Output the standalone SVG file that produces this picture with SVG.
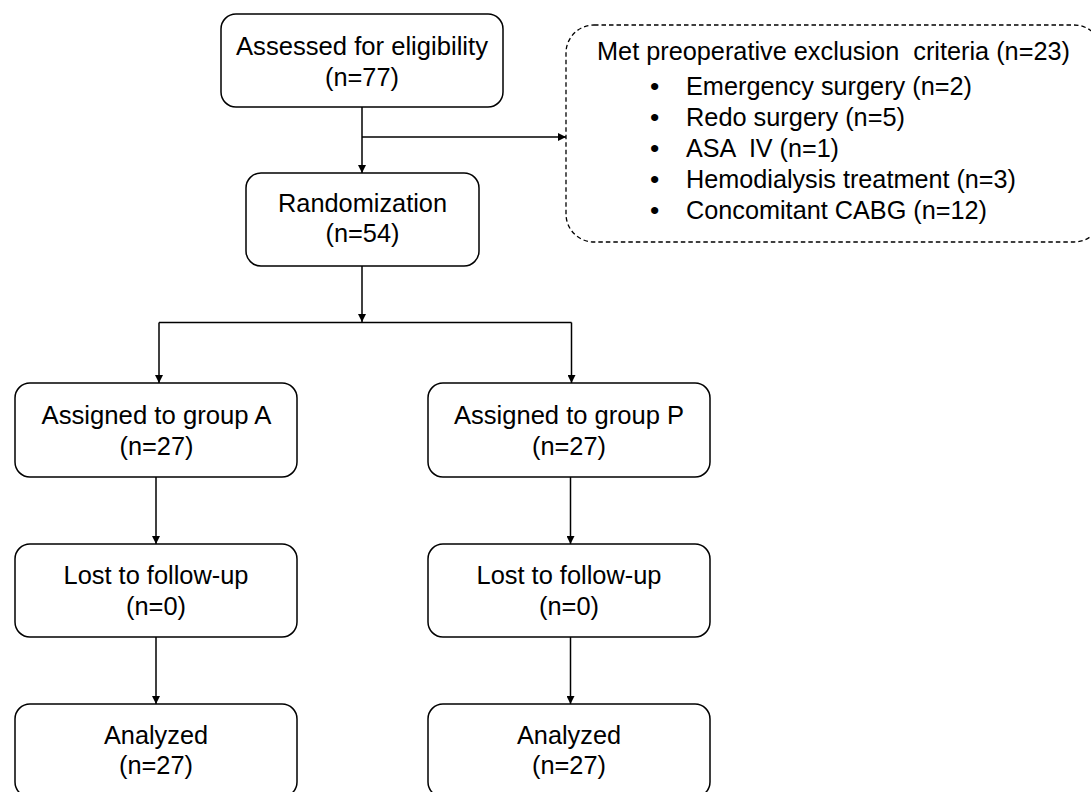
<svg xmlns="http://www.w3.org/2000/svg" width="1091" height="792" viewBox="0 0 1091 792">
<defs>
<style>
.box{fill:#fff;stroke:#000;stroke-width:1.5}
.dash{fill:#fff;stroke:#000;stroke-width:1.3;stroke-dasharray:4.5 3}
.t{font-family:"Liberation Sans",Arial,sans-serif;font-size:26.5px;fill:#000}
.c{text-anchor:middle}
.ln{fill:none;stroke:#000;stroke-width:1.5}
</style>
<marker id="ah" viewBox="0 0 10 10" refX="10" refY="5" markerWidth="9" markerHeight="8" markerUnits="userSpaceOnUse" orient="auto">
<path d="M0,0 L10,5 L0,10 Z" fill="#000"/>
</marker>
</defs>
<rect width="1091" height="792" fill="#fff"/>
<g id="connectors">
<path class="ln" d="M362,107 V173" marker-end="url(#ah)"/>
<path class="ln" d="M362,137 H566" marker-end="url(#ah)"/>
<path class="ln" d="M362,266 V322" marker-end="url(#ah)"/>
<path class="ln" d="M159,322.5 H571.5"/>
<path class="ln" d="M159,322.5 V383" marker-end="url(#ah)"/>
<path class="ln" d="M571.5,322.5 V383" marker-end="url(#ah)"/>
<path class="ln" d="M156,477 V544" marker-end="url(#ah)"/>
<path class="ln" d="M570.5,477 V544" marker-end="url(#ah)"/>
<path class="ln" d="M156,637 V704" marker-end="url(#ah)"/>
<path class="ln" d="M570.5,637 V704" marker-end="url(#ah)"/>
</g>
<g id="assessed">
<rect class="box" x="221" y="14" width="282" height="93" rx="15"/>
<text class="t c" x="362" y="55" textLength="252" lengthAdjust="spacingAndGlyphs">Assessed for eligibility</text>
<text class="t c" x="362" y="85.5" textLength="74" lengthAdjust="spacingAndGlyphs">(n=77)</text>
</g>
<g id="exclusion">
<rect class="dash" x="566" y="25" width="536" height="217" rx="28"/>
<text class="t" x="597" y="60" xml:space="preserve" textLength="473" lengthAdjust="spacingAndGlyphs">Met preoperative exclusion  criteria (n=23)</text>
<g class="t">
<text x="650" y="95">•</text><text x="686" y="95" textLength="286" lengthAdjust="spacingAndGlyphs">Emergency surgery (n=2)</text>
<text x="650" y="126">•</text><text x="686" y="126" textLength="219" lengthAdjust="spacingAndGlyphs">Redo surgery (n=5)</text>
<text x="650" y="157">•</text><text x="686" y="157" xml:space="preserve" textLength="153" lengthAdjust="spacingAndGlyphs">ASA  IV (n=1)</text>
<text x="650" y="188">•</text><text x="686" y="188" textLength="330" lengthAdjust="spacingAndGlyphs">Hemodialysis treatment (n=3)</text>
<text x="650" y="219">•</text><text x="686" y="219" textLength="301" lengthAdjust="spacingAndGlyphs">Concomitant CABG (n=12)</text>
</g>
</g>
<g id="randomization">
<rect class="box" x="246" y="173" width="233" height="93" rx="15"/>
<text class="t c" x="362.5" y="212" textLength="169" lengthAdjust="spacingAndGlyphs">Randomization</text>
<text class="t c" x="362.5" y="242" textLength="74" lengthAdjust="spacingAndGlyphs">(n=54)</text>
</g>
<g id="groupA">
<rect class="box" x="15" y="383" width="282" height="94" rx="15"/>
<text class="t c" x="156.5" y="424" textLength="230" lengthAdjust="spacingAndGlyphs">Assigned to group A</text>
<text class="t c" x="156.5" y="454.5" textLength="74" lengthAdjust="spacingAndGlyphs">(n=27)</text>
</g>
<g id="groupP">
<rect class="box" x="428" y="383" width="282" height="94" rx="15"/>
<text class="t c" x="569" y="424" textLength="230" lengthAdjust="spacingAndGlyphs">Assigned to group P</text>
<text class="t c" x="569" y="454.5" textLength="74" lengthAdjust="spacingAndGlyphs">(n=27)</text>
</g>
<g id="lostA">
<rect class="box" x="15" y="544" width="282" height="93" rx="15"/>
<text class="t c" x="156" y="584" textLength="185" lengthAdjust="spacingAndGlyphs">Lost to follow-up</text>
<text class="t c" x="156" y="614.5" textLength="60" lengthAdjust="spacingAndGlyphs">(n=0)</text>
</g>
<g id="lostP">
<rect class="box" x="428" y="544" width="282" height="93" rx="15"/>
<text class="t c" x="569" y="584" textLength="185" lengthAdjust="spacingAndGlyphs">Lost to follow-up</text>
<text class="t c" x="569" y="614.5" textLength="60" lengthAdjust="spacingAndGlyphs">(n=0)</text>
</g>
<g id="analyzedA">
<rect class="box" x="15" y="704" width="282" height="93" rx="15"/>
<text class="t c" x="156" y="744" textLength="104" lengthAdjust="spacingAndGlyphs">Analyzed</text>
<text class="t c" x="156" y="773.5" textLength="74" lengthAdjust="spacingAndGlyphs">(n=27)</text>
</g>
<g id="analyzedP">
<rect class="box" x="428" y="704" width="282" height="93" rx="15"/>
<text class="t c" x="569" y="744" textLength="104" lengthAdjust="spacingAndGlyphs">Analyzed</text>
<text class="t c" x="569" y="773.5" textLength="74" lengthAdjust="spacingAndGlyphs">(n=27)</text>
</g>
</svg>
